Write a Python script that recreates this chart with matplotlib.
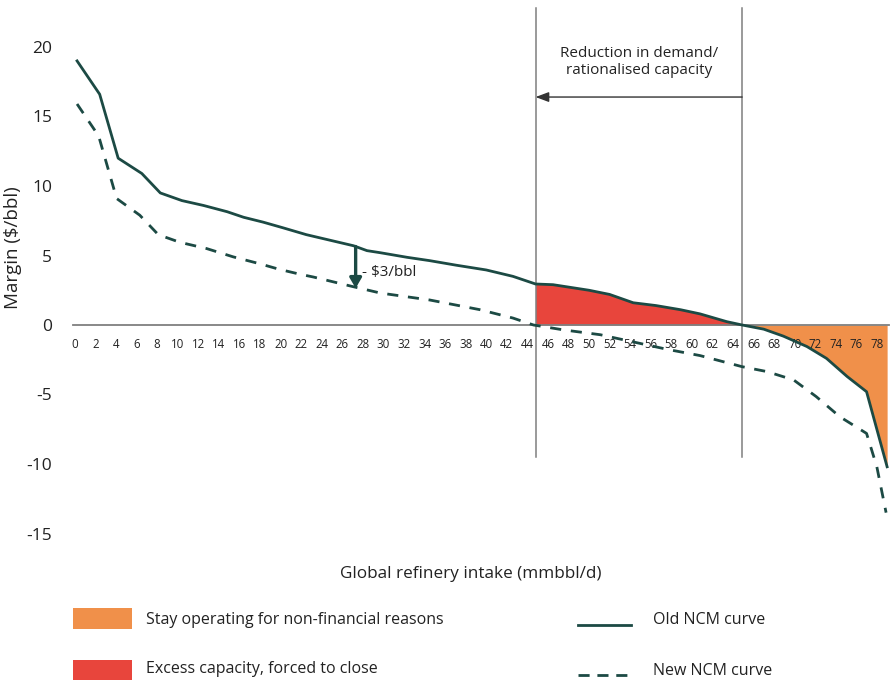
import matplotlib
matplotlib.use("Agg")
import matplotlib.pyplot as plt
from matplotlib.patches import Rectangle
from matplotlib.lines import Line2D
import numpy as np

plt.rcParams['font.family'] = ['Open Sans', 'DejaVu Sans']
plt.rcParams['font.weight'] = 500

# Old net cash margin curve (x: cumulative refinery intake, mmbbl/d; y: $/bbl)
old_x = [0.2, 2.4, 4.2, 6.5, 8.3, 10.4, 12.5, 14.8, 16.4, 18.3, 20.2, 22.5, 24.8,
         27.1, 28.4, 29.7, 32.3, 34.5, 37.1, 40.0, 42.6, 44.8, 46.5, 50.0, 52.0,
         54.3, 56.5, 58.9, 60.8, 63.4, 64.9, 67.0, 68.9, 71.2, 73.1, 75.1, 77.0, 79.0]
old_y = [19.0, 16.6, 12.0, 10.9, 9.5, 8.95, 8.6, 8.15, 7.75, 7.4, 7.0, 6.5, 6.1,
         5.7, 5.35, 5.2, 4.87, 4.63, 4.3, 3.96, 3.5, 2.95, 2.9, 2.5, 2.2,
         1.6, 1.4, 1.1, 0.8, 0.24, 0.0, -0.3, -0.8, -1.55, -2.4, -3.7, -4.8, -10.2]

# New net cash margin curve
new_x = [0.2, 2.3, 4.05, 6.3, 8.1, 10.2, 12.8, 15.4, 18.0, 19.9, 21.9, 23.2, 27.1,
         29.7, 34.5, 39.4, 42.6, 44.6, 47.5, 51.1, 57.6, 60.8, 64.9, 67.3, 69.9,
         72.1, 74.4, 77.0, 78.0, 78.9]
new_y = [15.9, 13.6, 9.1, 7.9, 6.5, 5.95, 5.5, 4.9, 4.4, 4.0, 3.65, 3.45, 2.75,
         2.3, 1.8, 1.1, 0.5, 0.0, -0.35, -0.7, -1.75, -2.2, -3.0, -3.35, -3.95,
         -5.15, -6.6, -7.8, -10.2, -13.5]

x_ticks = list(range(0, 80, 2))
y_ticks = [20, 15, 10, 5, 0, -5, -10, -15]

closure_start = 44.8      # start of excess capacity forced to close
closure_end = 64.9        # old curve crosses zero
margin_drop = 3           # $/bbl shift between curves
drop_at = 27.3

line_color = '#1c4a44'
red = '#e8453c'
orange = '#f0904a'
text_color = '#222222'
grid_gray = '#7f7f7f'

W, H = 891, 680
fig = plt.figure(figsize=(W / 100, H / 100), dpi=100)

xmin, xmax = -0.2, 79.2
ymin, ymax = -15.5, 23.0
px_per_x = 10.28
px_per_y = 13.9
left_px = 75 + xmin * px_per_x
right_px = 75 + xmax * px_per_x
top_px = 325 - ymax * px_per_y
bot_px = 325 - ymin * px_per_y
ax = fig.add_axes([left_px / W, 1 - bot_px / H,
                   (right_px - left_px) / W, (bot_px - top_px) / H])
ax.set_xlim(xmin, xmax)
ax.set_ylim(ymin, ymax)

ox = np.array(old_x)
oy = np.array(old_y)

# Shaded regions under the old curve
xs_red = np.linspace(closure_start, closure_end, 200)
ax.fill_between(xs_red, np.interp(xs_red, ox, oy), 0, color=red, lw=0, zorder=1)
xs_or = np.linspace(closure_end, old_x[-1], 200)
ax.fill_between(xs_or, np.interp(xs_or, ox, oy), 0, color=orange, lw=0, zorder=1)

# Curves
ax.plot(old_x, old_y, color=line_color, lw=2.0, zorder=4, solid_joinstyle='round')
ax.plot(new_x, new_y, color=line_color, lw=2.0, ls=(0, (4, 3.5)), zorder=4)

# Vertical boundaries
for xv in (closure_start, closure_end):
    ax.plot([xv, xv], [-9.5, 22.8], color=grid_gray, lw=1.1, zorder=3)

# Spines and ticks
for s in ('top', 'right', 'left'):
    ax.spines[s].set_visible(False)
ax.spines['bottom'].set_position(('data', 0))
ax.spines['bottom'].set_color(grid_gray)
ax.spines['bottom'].set_linewidth(1.3)
ax.spines['bottom'].set_zorder(2)
ax.set_xticks(x_ticks)
ax.set_xticklabels([str(t) for t in x_ticks], fontsize=8.3, color=text_color)
ax.tick_params(axis='x', length=0, pad=9)
ax.set_yticks(y_ticks)
ax.set_yticklabels([str(t) for t in y_ticks], fontsize=12.5, color=text_color)
ax.tick_params(axis='y', length=0, pad=15)

# Margin drop arrow
y_top = float(np.interp(drop_at, ox, oy))
ax.annotate('', xy=(drop_at, y_top - margin_drop), xytext=(drop_at, y_top),
            arrowprops=dict(arrowstyle='-|>,head_width=0.35,head_length=0.6',
                            color=line_color, lw=2.4, shrinkA=0, shrinkB=0),
            zorder=5)
ax.text(drop_at + 0.6, y_top - margin_drop / 2 - 0.35, '- $3/bbl', fontsize=11,
        color=text_color, va='center', ha='left')

# Demand reduction arrow
ax.annotate('', xy=(closure_start, 16.4), xytext=(closure_end, 16.4),
            arrowprops=dict(arrowstyle='-|>,head_width=0.3,head_length=0.8',
                            color='#333333', lw=1.0, shrinkA=0, shrinkB=0))
ax.text((closure_start + closure_end) / 2, 18.9,
        'Reduction in demand/\nrationalised capacity', ha='center', va='center',
        fontsize=11, color=text_color, linespacing=1.2)

# Axis titles
fig.text(471 / W, 1 - 574 / H, 'Global refinery intake (mmbbl/d)', ha='center',
         va='center', fontsize=12.3, color=text_color)
fig.text(13 / W, 1 - 248 / H, 'Margin ($/bbl)', ha='center', va='center',
         rotation=90, fontsize=13.5, color=text_color)

# Legend
lg = fig.add_axes([0, 0, 1, 1], zorder=-1)
lg.set_xlim(0, W)
lg.set_ylim(H, 0)
lg.axis('off')
lg.add_patch(Rectangle((73, 608), 59, 21, color=orange, lw=0))
lg.add_patch(Rectangle((73, 660), 59, 20, color=red, lw=0))
lg.text(146, 620, 'Stay operating for non-financial reasons', fontsize=11.5,
        va='center', ha='left', color=text_color)
lg.text(146, 669, 'Excess capacity, forced to close', fontsize=11.5,
        va='center', ha='left', color=text_color)
lg.add_line(Line2D([578, 631], [625, 625], color=line_color, lw=2.0))
lg.add_line(Line2D([578, 631], [675, 675], color=line_color, lw=2.0,
                   ls=(0, (4, 2.8))))
lg.text(653, 620, 'Old NCM curve', fontsize=11.5, va='center', ha='left',
        color=text_color)
lg.text(653, 671, 'New NCM curve', fontsize=11.5, va='center', ha='left',
        color=text_color)

fig.savefig('out.png', dpi=100)
